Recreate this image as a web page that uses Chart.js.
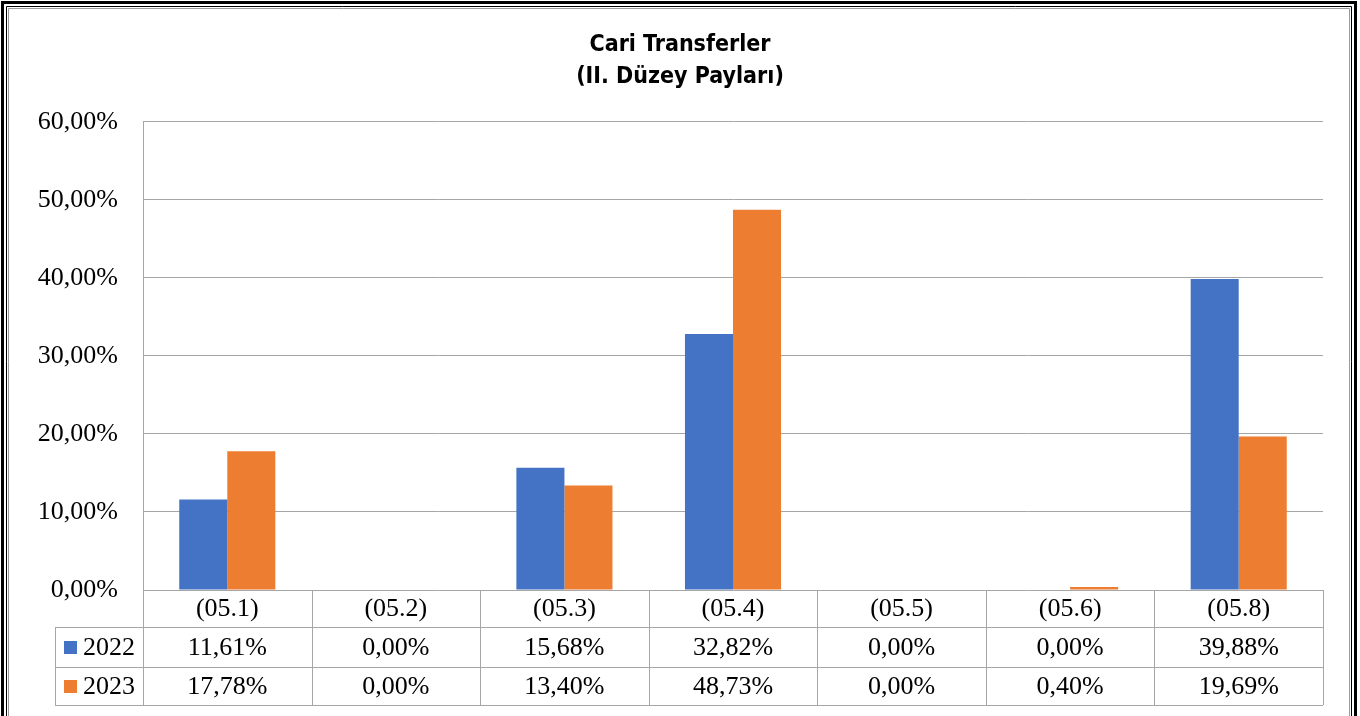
<!DOCTYPE html>
<html>
<head>
<meta charset="utf-8">
<script src="https://cdn.jsdelivr.net/npm/chart.js@4.4.0/dist/chart.umd.min.js"></script>
<style>
  html, body { margin: 0; padding: 0; background: #fff; }
  #wrap { width: 1360px; height: 716px; }
</style>
</head>
<body>
<div id="wrap"><canvas id="chart" width="1360" height="716"></canvas></div>
<script>
const categories = ['(05.1)', '(05.2)', '(05.3)', '(05.4)', '(05.5)', '(05.6)', '(05.8)'];
const seriesNames = ['2022', '2023'];
const values2022 = [11.61, 0.00, 15.68, 32.82, 0.00, 0.00, 39.88];
const values2023 = [17.78, 0.00, 13.40, 48.73, 0.00, 0.40, 19.69];
const yTicks = [0, 10, 20, 30, 40, 50, 60];

const colors = ['#4472C4', '#ED7D31'];
const gridColor = '#a6a6a6';
const serif = "'Liberation Serif', 'Times New Roman', serif";
const textSize = 26;

const pct = v => v.toFixed(2).replace('.', ',') + '%';

// arka plan + çift çerçeve
const framePlugin = {
  id: 'frame',
  beforeDraw(chart) {
    const c = chart.ctx;
    c.save();
    c.fillStyle = '#fff';
    c.fillRect(0, 0, chart.width, chart.height);
    c.strokeStyle = '#000';
    c.lineWidth = 3;
    c.beginPath();
    c.moveTo(2.5, 720); c.lineTo(2.5, 2.5); c.lineTo(1355.5, 2.5); c.lineTo(1355.5, 720);
    c.stroke();
    c.lineWidth = 1;
    c.beginPath();
    c.moveTo(6.5, 720); c.lineTo(6.5, 6.5); c.lineTo(1351.5, 6.5); c.lineTo(1351.5, 720);
    c.stroke();
    c.strokeStyle = '#9a9a9a';
    c.beginPath();
    c.moveTo(8.5, 720); c.lineTo(8.5, 8.5); c.lineTo(1349.5, 8.5); c.lineTo(1349.5, 720);
    c.stroke();
    c.restore();
  }
};

// veri tablosu
const tablePlugin = {
  id: 'dataTable',
  afterDraw(chart) {
    const c = chart.ctx;
    const area = chart.chartArea;
    const x = chart.scales.x;
    const n = categories.length;
    const colW = (area.right - area.left) / n;
    const rows = [area.bottom, area.bottom + 37, area.bottom + 77, area.bottom + 115];
    const legendLeft = 55;

    c.save();
    c.strokeStyle = gridColor;
    c.lineWidth = 1;
    c.beginPath();
    for (let r = 1; r < rows.length; r++) {
      c.moveTo(legendLeft, Math.round(rows[r]) + 0.5);
      c.lineTo(area.right, Math.round(rows[r]) + 0.5);
    }
    for (let i = 0; i <= n; i++) {
      const xx = Math.round(area.left + i * colW) + 0.5;
      c.moveTo(xx, rows[0]);
      c.lineTo(xx, rows[3]);
    }
    c.moveTo(legendLeft + 0.5, rows[1]);
    c.lineTo(legendLeft + 0.5, rows[3]);
    c.stroke();

    c.fillStyle = '#000';
    c.font = textSize + 'px ' + serif;
    c.textAlign = 'center';
    c.textBaseline = 'middle';
    const data = [values2022, values2023];
    categories.forEach((cat, i) => {
      const cx = x.getPixelForValue(i);
      c.fillText(cat, cx, (rows[0] + rows[1]) / 2 + 1);
      data.forEach((arr, s) => {
        c.fillText(pct(arr[i]), cx, (rows[s + 1] + rows[s + 2]) / 2 + 1);
      });
    });

    c.textAlign = 'left';
    seriesNames.forEach((name, s) => {
      const cy = (rows[s + 1] + rows[s + 2]) / 2;
      c.fillStyle = colors[s];
      c.fillRect(64, cy - 6, 13, 13);
      c.fillStyle = '#000';
      c.fillText(name, 83, cy + 1);
    });
    c.restore();
  }
};

new Chart(document.getElementById('chart'), {
  type: 'bar',
  data: {
    labels: categories,
    datasets: [
      { label: seriesNames[0], data: values2022, backgroundColor: colors[0] },
      { label: seriesNames[1], data: values2023, backgroundColor: colors[1] }
    ]
  },
  options: {
    responsive: false,
    animation: false,
    devicePixelRatio: 1,
    layout: { padding: { left: 37, right: 37, top: 0, bottom: 126 } },
    datasets: { bar: { barPercentage: 1, categoryPercentage: 0.57 } },
    scales: {
      x: { display: false },
      y: {
        min: 0,
        max: 60,
        afterFit(scale) { scale.width = 106; },
        afterBuildTicks(scale) { scale.ticks = yTicks.map(v => ({ value: v })); },
        grid: { color: gridColor, drawTicks: false },
        border: { display: true, color: gridColor },
        ticks: {
          padding: 25,
          color: '#000',
          font: { family: serif, size: textSize },
          callback: v => pct(v)
        }
      }
    },
    plugins: {
      legend: { display: false },
      tooltip: { enabled: false },
      title: {
        display: true,
        text: ['Cari Transferler', '(II. Düzey Payları)'],
        color: '#000',
        font: { family: "'Liberation Sans Narrow', 'DejaVu Sans Condensed', sans-serif", size: 23, weight: 'bold', lineHeight: 1.39 },
        padding: { top: 29, bottom: 29 }
      }
    }
  },
  plugins: [framePlugin, tablePlugin]
});
</script>
</body>
</html>
